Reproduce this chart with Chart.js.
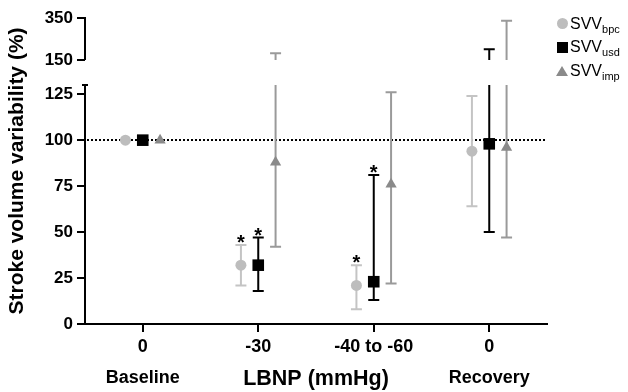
<!DOCTYPE html>
<html>
<head>
<meta charset="utf-8">
<script src="https://cdn.jsdelivr.net/npm/chart.js@4.4.1/dist/chart.umd.min.js"></script>
<style>
  html,body{margin:0;padding:0;background:#fff}
  #wrap{position:relative;width:628px;height:392px}
  #legend{position:absolute;left:556px;top:12px;font:16px "Liberation Sans",Arial,sans-serif;color:#000}
  #legend .row{height:23.5px;display:flex;align-items:center}
  #legend .mk{width:12px;height:12px;display:flex;align-items:center;justify-content:center;margin-right:2px}
  #legend sub{font-size:11px;vertical-align:-4px;line-height:0}
  .dot{width:11px;height:11px;border-radius:50%;background:#bdbdbd}
  .sq{width:11px;height:11px;background:#000}
  .tri{width:0;height:0;border-left:6px solid transparent;border-right:6px solid transparent;border-bottom:10px solid #8a8a8a}
</style>
</head>
<body>
<div id="wrap">
  <canvas id="c" width="628" height="392"></canvas>
  <div id="legend">
    <div class="row"><span class="mk"><span class="dot"></span></span><span>SVV<sub>bpc</sub></span></div>
    <div class="row"><span class="mk"><span class="sq"></span></span><span>SVV<sub>usd</sub></span></div>
    <div class="row"><span class="mk"><span class="tri"></span></span><span>SVV<sub>imp</sub></span></div>
  </div>
</div>
<script>
// x categories (two label lines)
const xDose  = ['0', '-30', '-40 to -60', '0'];
const xPhase = ['Baseline', '', '', 'Recovery'];
const yTicks = [0, 25, 50, 75, 100, 125, 150, 350];
const refLine = 100;

// mean and error bar ends, % of baseline
const bpcMean = [100, 32, 21, 94];
const bpcLow  = [100, 21, 8, 64];
const bpcHigh = [100, 43, 32, 124];
const bpcSig  = [0, 1, 1, 0];

const usdMean = [100, 32, 23, 98];
const usdLow  = [100, 18, 13, 50];
const usdHigh = [100, 47, 81, 201];
const usdSig  = [0, 1, 1, 0];

const impMean = [100, 88, 76, 96];
const impLow  = [100, 42, 22, 47];
const impHigh = [100, 182, 126, 337];
const impSig  = [0, 0, 0, 0];

Chart.defaults.font.family = '"Liberation Sans", Arial, sans-serif';
Chart.defaults.color = '#000';

// linear scale with a gap between brk.from and brk.to
class BrokenScale extends Chart.LinearScale {
  _dec(v){
    const b = this.options.brk;
    if (v <= b.from) return (v - this.min) / (b.from - this.min) * b.lowFrac;
    if (v < b.to) return b.lowFrac + (v - b.from) / (b.to - b.from) * (b.highFrac - b.lowFrac);
    return b.highFrac + (v - b.to) / (this.max - b.to) * (1 - b.highFrac);
  }
  getPixelForValue(v){
    if (v === null || isNaN(v)) return NaN;
    return this.getPixelForDecimal(this._dec(v));
  }
  getValueForPixel(p){
    const b = this.options.brk, d = this.getDecimalForPixel(p);
    if (d <= b.lowFrac) return this.min + d / b.lowFrac * (b.from - this.min);
    if (d < b.highFrac) return b.from + (d - b.lowFrac) / (b.highFrac - b.lowFrac) * (b.to - b.from);
    return b.to + (d - b.highFrac) / (1 - b.highFrac) * (this.max - b.to);
  }
}
BrokenScale.id = 'broken';
BrokenScale.defaults = {};
Chart.register(BrokenScale);

const OFF = 0.15;
function series(label, mean, lo, hi, sig, off, style, color, barColor, radius){
  return {
    label, errLow: lo, errHigh: hi, sig, off, barColor,
    data: mean.map((m, i) => ({x: i + off, y: m})),
    pointStyle: style, pointRadius: radius, pointHoverRadius: radius,
    backgroundColor: color, borderColor: color, borderWidth: 0
  };
}

const errorBars = {
  id: 'errorBars',
  beforeDatasetsDraw(chart){
    const {ctx, chartArea, scales: {x, y}} = chart;
    const b = y.options.brk;
    ctx.save();
    // dotted 100% line
    ctx.strokeStyle = '#000'; ctx.lineWidth = 2; ctx.setLineDash([2, 2]);
    const yr = Math.round(y.getPixelForValue(refLine));
    ctx.beginPath(); ctx.moveTo(chartArea.left + 2, yr); ctx.lineTo(chartArea.right, yr); ctx.stroke();
    ctx.setLineDash([]);
    chart.data.datasets.forEach(ds => {
      ctx.strokeStyle = ds.barColor; ctx.lineWidth = 2;
      ds.errLow.forEach((lo, i) => {
        const hi = ds.errHigh[i];
        if (lo === hi) return;
        const px = x.getPixelForValue(i + ds.off);
        ctx.beginPath();
        ctx.moveTo(px, y.getPixelForValue(lo));
        ctx.lineTo(px, y.getPixelForValue(Math.min(hi, b.from)));
        if (hi > b.to){
          ctx.moveTo(px, y.getPixelForValue(b.to));
          ctx.lineTo(px, y.getPixelForValue(hi));
        }
        [lo, hi].forEach(v => {
          const py = y.getPixelForValue(v);
          ctx.moveTo(px - 5.5, py); ctx.lineTo(px + 5.5, py);
        });
        ctx.stroke();
      });
    });
    ctx.restore();
  },
  afterDatasetsDraw(chart){
    const {ctx, scales: {x, y}} = chart;
    ctx.save();
    ctx.fillStyle = '#000'; ctx.font = 'bold 20px "Liberation Sans", Arial, sans-serif';
    ctx.textAlign = 'center'; ctx.textBaseline = 'alphabetic';
    chart.data.datasets.forEach(ds => {
      ds.sig.forEach((s, i) => {
        if (!s) return;
        ctx.fillText('*', x.getPixelForValue(i + ds.off), y.getPixelForValue(ds.errHigh[i]) + 4);
      });
    });
    ctx.restore();
  },
  afterDraw(chart){
    // broken y axis line
    const {ctx, scales: {y}} = chart;
    const b = y.options.brk, ax = y.right;
    ctx.save();
    ctx.strokeStyle = '#000'; ctx.lineWidth = 2;
    ctx.beginPath();
    ctx.moveTo(ax, y.getPixelForValue(y.min) + 1); ctx.lineTo(ax, y.getPixelForValue(b.from));
    ctx.moveTo(ax - 3, y.getPixelForValue(b.from)); ctx.lineTo(ax + 3, y.getPixelForValue(b.from));
    ctx.moveTo(ax, y.getPixelForValue(b.to)); ctx.lineTo(ax, y.getPixelForValue(y.max) - 1);
    ctx.stroke();
    ctx.restore();
  }
};

new Chart(document.getElementById('c'), {
  type: 'scatter',
  data: {
    datasets: [
      series('SVVbpc', bpcMean, bpcLow, bpcHigh, bpcSig, -OFF, 'circle', '#bdbdbd', '#c4c4c4', 5.5),
      series('SVVusd', usdMean, usdLow, usdHigh, usdSig, 0, 'rect', '#000', '#000', 8.2),
      series('SVVimp', impMean, impLow, impHigh, impSig, OFF, 'triangle', '#8a8a8a', '#9a9a9a', 6.5)
    ]
  },
  options: {
    responsive: false,
    animation: false,
    layout: {padding: {top: 18, right: 81, left: 0, bottom: 0}},
    plugins: {legend: {display: false}, tooltip: {enabled: false}},
    scales: {
      x: {
        type: 'linear', min: -0.5, max: 3.5,
        afterBuildTicks: s => { s.ticks = xDose.map((_, i) => ({value: i})); },
        afterFit: s => { s.height = 68; },
        ticks: {
          autoSkip: false, maxRotation: 0, padding: -1,
          font: {size: 18, weight: 'bold', lineHeight: 1.75},
          callback: (v, i) => xPhase[i] ? [xDose[i], xPhase[i]] : xDose[i]
        },
        grid: {drawOnChartArea: false, tickLength: 8, color: '#000', lineWidth: 2},
        border: {display: true, color: '#000', width: 2},
        title: {display: true, text: 'LBNP (mmHg)', font: {size: 21.5, weight: 'bold'}, padding: {top: 0, bottom: 0}}
      },
      y: {
        type: 'broken', min: 0, max: 350,
        brk: {from: 130, to: 150, lowFrac: 0.781, highFrac: 0.863},
        afterBuildTicks: s => { s.ticks = yTicks.map(v => ({value: v})); },
        afterFit: s => { s.width = 85; },
        ticks: {padding: 4, font: {size: 17, weight: 'bold'}, callback: v => String(v)},
        grid: {drawOnChartArea: false, tickLength: 8, color: '#000', lineWidth: 2},
        border: {display: false},
        title: {display: true, text: 'Stroke volume variability (%)', font: {size: 21, weight: 'bold'}, padding: {top: 5, bottom: 0}}
      }
    }
  },
  plugins: [errorBars]
});
</script>
</body>
</html>
